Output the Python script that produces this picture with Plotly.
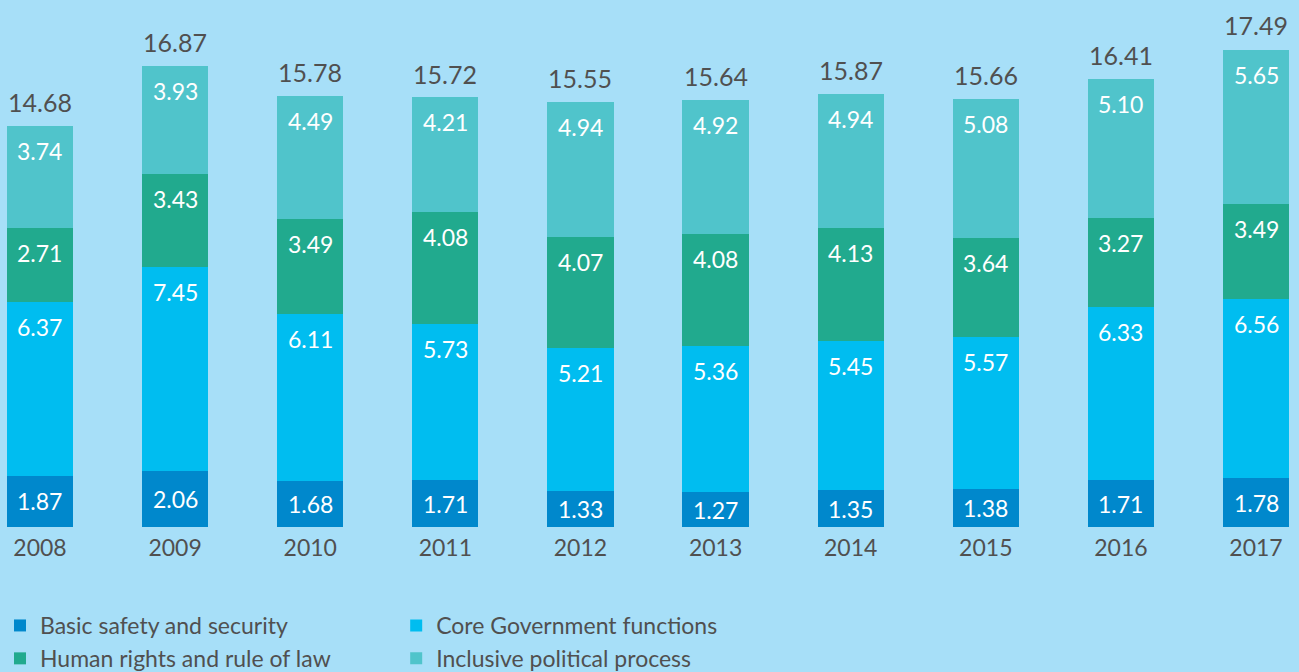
import plotly.graph_objects as go

years = ["2008", "2009", "2010", "2011", "2012", "2013", "2014", "2015", "2016", "2017"]
basic_safety = [1.87, 2.06, 1.68, 1.71, 1.33, 1.27, 1.35, 1.38, 1.71, 1.78]
core_gov = [6.37, 7.45, 6.11, 5.73, 5.21, 5.36, 5.45, 5.57, 6.33, 6.56]
human_rights = [2.71, 3.43, 3.49, 4.08, 4.07, 4.08, 4.13, 3.64, 3.27, 3.49]
inclusive = [3.74, 3.93, 4.49, 4.21, 4.94, 4.92, 4.94, 5.08, 5.10, 5.65]
totals = [14.68, 16.87, 15.78, 15.72, 15.55, 15.64, 15.87, 15.66, 16.41, 17.49]

series = [
    ("Basic safety and security", basic_safety, "#0088cc", "legend"),
    ("Core Government functions", core_gov, "#00bdf0", "legend2"),
    ("Human rights and rule of law", human_rights, "#21aa8e", "legend"),
    ("Inclusive political process", inclusive, "#50c4cb", "legend2"),
]

BG = "#a7dff8"
TXT = "#505050"
FONT = "Lato"

xs = list(range(len(years)))
fig = go.Figure()
for name, vals, col, lg in series:
    fig.add_trace(go.Bar(
        x=xs, y=vals, name=name, marker=dict(color=col, line=dict(width=0)),
        width=0.49, legend=lg, legendgroup=name, hoverinfo="y+name",
    ))

annotations = []
base = [0.0] * len(years)
for si, (name, vals, col, lg) in enumerate(series):
    for i, v in enumerate(vals):
        top = base[i] + v
        if si == 0:
            annotations.append(dict(x=xs[i], y=base[i] + v / 2, text=f"{v:.2f}", showarrow=False,
                                    xref="x", yref="y", yanchor="middle",
                                    font=dict(family=FONT, size=23, color="white")))
        else:
            annotations.append(dict(x=xs[i], y=top, text=f"{v:.2f}", showarrow=False,
                                    xref="x", yref="y", yanchor="top", yshift=-9,
                                    font=dict(family=FONT, size=23, color="white")))
        base[i] = top

for i, t in enumerate(totals):
    annotations.append(dict(x=xs[i], y=t, text=f"{t:.2f}", showarrow=False,
                            xref="x", yref="y", yanchor="bottom", yshift=7,
                            font=dict(family=FONT, size=25, color=TXT)))

legend_common = dict(yref="container", y=1 - 604 / 672, xanchor="left", yanchor="top",
                     orientation="v", bgcolor="rgba(0,0,0,0)",
                     font=dict(size=23, color=TXT), traceorder="normal",
                     itemwidth=30, tracegroupgap=8)

fig.update_layout(
    width=1299, height=672,
    barmode="stack",
    paper_bgcolor=BG, plot_bgcolor=BG,
    margin=dict(l=0, r=0, t=8, b=145, autoexpand=False),
    font=dict(family=FONT, color=TXT, size=22),
    xaxis=dict(range=[-0.296, 9.318], tickvals=xs, ticktext=years, showgrid=False,
               zeroline=False, showline=False, ticks="outside", ticklen=0,
               tickcolor="rgba(0,0,0,0)",
               tickfont=dict(size=23, color=TXT)),
    yaxis=dict(range=[0, 19], visible=False, showgrid=False, zeroline=False),
    legend=dict(x=0.0, **legend_common),
    legend2=dict(x=0.305, **legend_common),
    annotations=annotations,
    bargap=0,
)

fig.write_html(
    "out.html",
    config={"displayModeBar": False},
    post_script="document.body.style.margin='0';document.body.style.background='%s';document.body.style.overflow='hidden';" % BG,
)
